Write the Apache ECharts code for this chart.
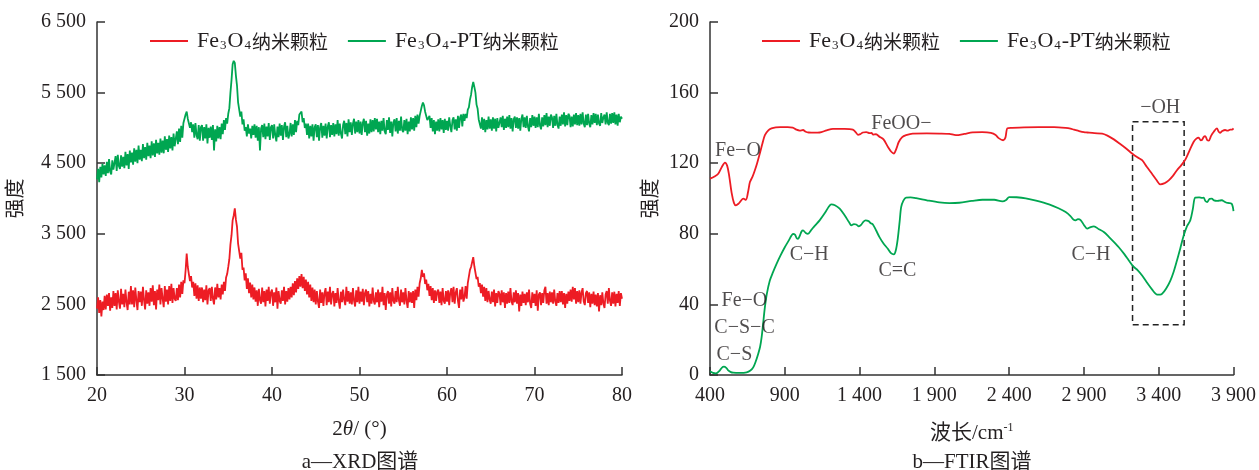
<!DOCTYPE html>
<html><head><meta charset="utf-8">
<script src="https://cdn.jsdelivr.net/npm/echarts@6/dist/echarts.min.js"></script>
<style>html,body{margin:0;padding:0;background:#fff}#c{width:1259px;height:470px}</style>
</head><body><div id="c"></div>
<script>
const seriesNames = ['Fe3O4纳米颗粒', 'Fe3O4-PT纳米颗粒'];
const xrdStart = 20, xrdStep = 0.125;
const xrdRed = [
2440,2600,2380,2560,2330,2540,2420,2620, 2430,2640,2480,2660,2410,2600,2450,2690,
2480,2660,2430,2700,2540,2440,2720,2500, 2650,2460,2710,2530,2420,2680,2500,2760,
2500,2700,2460,2740,2560,2420,2690,2530, 2680,2480,2750,2560,2430,2700,2510,2670,
2480,2730,2540,2770,2490,2690,2430,2710, 2560,2780,2500,2730,2580,2460,2760,2540,
2710,2500,2760,2550,2790,2520,2730,2580, 2550,2730,2560,2780,2600,2820,2650,2840,
2800,2980,3220,3030,2930,2830,2900,2740, 2820,2620,2800,2580,2770,2550,2740,2580,
2740,2530,2710,2560,2770,2500,2700,2730, 2550,2750,2580,2500,2740,2570,2790,2600,
2730,2570,2780,2640,2820,2690,2880,2930, 3030,3140,3350,3480,3690,3760,3860,3700,
3600,3360,3360,3150,3230,2990,3020,2840, 2940,2720,2870,2660,2810,2600,2780,2570,
2740,2540,2700,2480,2720,2560,2510,2740, 2530,2690,2470,2710,2550,2750,2510,2670,
2710,2480,2670,2530,2740,2440,2690,2550, 2510,2700,2550,2750,2500,2690,2540,2730,
2570,2750,2600,2800,2630,2830,2670,2870, 2720,2900,2750,2930,2730,2890,2690,2850,
2640,2820,2600,2780,2550,2740,2530,2710, 2500,2690,2540,2450,2710,2520,2670,2480,
2660,2730,2490,2680,2530,2750,2500,2650, 2690,2470,2660,2520,2730,2550,2440,2680,
2530,2710,2560,2490,2750,2540,2690,2510, 2670,2500,2730,2550,2470,2700,2530,2750,
2510,2680,2540,2720,2490,2660,2710,2530, 2690,2470,2650,2510,2740,2550,2500,2670,
2530,2710,2460,2670,2540,2750,2490,2660, 2420,2640,2690,2510,2670,2470,2730,2550,
2510,2690,2530,2750,2560,2480,2710,2530, 2670,2500,2730,2550,2450,2690,2530,2670,
2520,2690,2450,2710,2560,2750,2610,2800, 2870,2990,2890,2940,2790,2850,2700,2790,
2620,2760,2560,2730,2520,2700,2550,2680, 2710,2520,2680,2490,2730,2550,2510,2690,
2540,2700,2490,2670,2730,2530,2750,2510, 2670,2730,2550,2450,2710,2570,2750,2540,
2600,2760,2580,2800,2790,2990,3030,3020, 3170,3040,3020,2860,2890,2750,2800,2660,
2780,2610,2750,2550,2730,2530,2690,2570, 2510,2680,2530,2710,2470,2660,2520,2690,
2650,2490,2700,2530,2670,2450,2660,2510, 2680,2520,2730,2540,2490,2670,2530,2700,
2510,2660,2400,2640,2480,2680,2520,2650, 2490,2670,2530,2710,2510,2450,2670,2520,
2650,2480,2700,2410,2640,2670,2490,2660, 2520,2700,2750,2510,2660,2490,2680,2530,
2670,2510,2710,2540,2480,2660,2520,2690, 2530,2690,2500,2660,2450,2650,2510,2680,
2550,2710,2540,2750,2570,2730,2510,2690, 2530,2700,2510,2670,2730,2540,2490,2660,
2690,2520,2670,2460,2650,2510,2680,2490, 2640,2470,2660,2400,2630,2490,2670,2510,
2450,2640,2690,2510,2730,2550,2480,2670, 2510,2680,2470,2650,2520,2690,2480,2660,
2580];
const xrdGreen = [
4270,4420,4230,4450,4300,4490,4340,4470, 4320,4520,4360,4560,4380,4340,4540,4410,
4420,4600,4390,4620,4460,4420,4610,4450, 4590,4430,4660,4470,4630,4420,4680,4510,
4650,4480,4710,4520,4690,4500,4750,4550, 4690,4530,4770,4570,4730,4550,4790,4600,
4750,4570,4810,4610,4780,4590,4830,4640, 4790,4620,4850,4650,4820,4640,4880,4690,
4840,4660,4890,4710,4870,4680,4920,4740, 4750,4950,4770,4990,4800,5030,4860,5070,
5060,5190,5230,5130,5120,5000,5080,4940, 5050,4860,5070,4900,4840,5040,4820,5010,
5040,4820,5010,4850,5050,4780,5000,4860, 5020,4830,5040,4680,4980,4810,5030,4850,
5010,4840,5060,4910,5110,4970,5140,5060, 5200,5280,5500,5680,5900,5950,5920,5740,
5600,5360,5360,5160,5230,5050,5120,4960, 5010,4880,5050,4920,4990,4850,5030,4900,
5050,4860,5030,4820,5010,4680,4990,5040, 4870,5060,4840,5020,4880,5070,4830,5010,
5040,4850,5050,4890,4810,5020,4870,5060, 4890,5040,4830,5020,5080,4870,5030,4850,
4910,5070,4880,5050,4900,5110,4940,5100, 5040,5190,5170,5230,5080,5140,5000,5060,
4900,5060,4850,5030,4880,5050,4820,5010, 5050,4870,5040,4820,5010,5070,4860,5030,
4890,5060,4850,5020,5080,4870,5040,4900, 5070,4880,5050,4910,5110,4890,5060,4920,
4850,5040,5100,4910,5070,4880,5120,4940, 5080,4900,5060,5130,4920,5090,4940,5110,
4920,5090,4900,5070,5130,4940,5100,4890, 5060,4920,5120,4940,5110,4950,5140,4980,
5130,4940,5090,4910,5100,4960,5140,4950, 4910,5110,4970,5150,4930,5090,4880,5080,
5120,4950,5140,4920,5100,4960,5160,4970, 4940,5110,4960,5130,4910,5090,4950,5150,
4980,5140,4960,5170,5010,5190,5060,5170, 5180,5310,5360,5320,5230,5240,5110,5130,
5170,5000,5140,4950,5110,4910,5090,4960, 5120,4950,5140,4980,5110,4930,5130,4970,
5100,4960,5150,5030,4940,5110,5150,4980, 5120,4960,5170,5000,5150,5190,5020,5200,
5100,5200,5140,5260,5290,5400,5470,5580, 5650,5580,5500,5330,5270,5120,5130,4990,
5150,4970,5130,4940,5110,4980,5160,4990, 5120,4960,5150,4990,5130,4950,5140,5000,
4980,5150,5010,5170,4970,5130,5000,5160, 5010,5180,4990,5140,4950,5120,5160,5000,
5150,4990,5140,4960,5130,5190,5010,5150, 5000,5170,5020,4950,5140,5010,5180,5030,
5160,5000,5150,5010,5200,5030,4980,5150, 5020,5180,5040,5210,5010,5160,5030,5190,
5150,5000,5170,5030,5200,5040,4990,5160, 5030,5190,5050,5220,5020,5180,5040,5200,
5170,5010,5160,5020,5190,5050,5210,5040, 5180,5030,5200,5050,5220,5060,5010,5190,
5040,5200,5060,5010,5180,5050,5210,5070, 5200,5040,5190,5060,5030,5210,5070,5150,
5190,5050,5220,5070,5040,5200,5060,5210, 5070,5220,5050,5190,5030,5200,5080,5160,
5130];
const xrdTicksX = [20, 30, 40, 50, 60, 70, 80];
const xrdTicksY = [1500, 2500, 3500, 4500, 5500, 6500];
const ftirTicksX = [400, 900, 1400, 1900, 2400, 2900, 3400, 3900];
const ftirTicksY = [0, 40, 80, 120, 160, 200];
const ftirRed = [
[400,111.3],[430,112.5],[455,114],[480,118],[500,120.3],[515,118.5],[528,113],[545,103],[560,97.5],[573,96.1],
[590,97],[605,98.5],[622,99.9],[640,99.3],[655,104],[667,109.3],[685,112.5],[700,116],[715,120],[733,125.5],
[750,131],[767,135.9],[790,138.6],[811,139.7],[840,140.3],[870,140.4],[920,140.4],[953,140.2],[978,139],[1000,138.5],
[1022,138.8],[1040,137.8],[1060,137.4],[1100,137.3],[1133,137.4],[1180,138.6],[1222,139.4],[1300,139.4],[1355,139],[1375,137.5],
[1389,136.1],[1405,136.5],[1422,137.4],[1445,137.6],[1467,137],[1480,137.2],[1489,136.2],[1510,136.4],[1533,135],[1560,133.5],
[1590,129.2],[1612,126.5],[1629,125.5],[1645,128],[1662,132],[1685,134.8],[1711,135.9],[1755,136.8],[1850,136.9],[1933,136.8],
[2000,136.6],[2044,135.9],[2100,136.6],[2155,137.5],[2220,137.6],[2278,137.2],[2310,136],[2330,134.2],[2360,133],[2375,134.5],
[2389,139.8],[2420,140],[2500,140.3],[2600,140.4],[2700,140.4],[2778,140],[2810,139.6],[2833,139],[2860,138.4],[2900,137.6],
[2922,137.4],[2970,137],[3022,136.8],[3060,135.5],[3100,133.5],[3133,131.5],[3180,128.5],[3222,125.5],[3260,123.2],[3289,121.7],
[3320,118],[3355,114],[3385,110.5],[3411,108],[3440,108.7],[3467,110.3],[3495,112.8],[3522,116],[3550,118.8],[3578,122],
[3605,127],[3633,132],[3650,133.8],[3667,134.5],[3680,133],[3690,133.2],[3700,134.8],[3711,135.3],[3725,133],[3735,132.8],
[3750,135.5],[3767,137.7],[3789,139.7],[3800,138],[3810,137.2],[3825,138.2],[3844,138.8],[3860,138.4],[3878,139],[3890,139],
[3900,139.7]];
const ftirGreen = [
[400,2.1],[420,1.2],[440,0.9],[465,2.5],[480,4.2],[493,4.7],[507,4.2],[520,2.8],[540,1.6],[555,1.3],
[600,1.2],[645,1.5],[670,2.5],[689,4.3],[705,7.5],[722,11.9],[735,16],[745,21.3],[755,29],[767,38.4],
[780,46],[800,53.5],[820,58],[845,63],[870,67.5],[900,72.4],[925,76],[945,79],[955,80],[968,79.5],
[980,77.5],[989,77.2],[1000,78.8],[1012,81.3],[1022,81.9],[1040,80.5],[1055,80],[1080,82.5],[1100,84.5],[1133,87.6],
[1170,92],[1195,95.5],[1211,96.7],[1235,96.2],[1267,94.2],[1300,90.5],[1330,86.5],[1345,84.8],[1362,85.5],[1378,85.3],
[1395,84.2],[1410,85],[1425,86.8],[1440,87.6],[1460,87.2],[1475,86],[1489,85.3],[1510,82],[1533,78.1],[1560,74.5],
[1589,71.5],[1610,69],[1629,68.3],[1642,70.5],[1655,77],[1668,87],[1678,95.1],[1693,98.8],[1711,100.5],[1740,100.6],
[1778,100.2],[1850,99],[1933,97.8],[2000,97.4],[2067,97.6],[2150,98.6],[2222,99.3],[2300,99.3],[2355,98.4],[2380,99.2],
[2400,100.8],[2450,100.7],[2511,100.1],[2580,98.8],[2667,96.7],[2730,94.5],[2778,92.3],[2810,90],[2830,88],[2844,87.6],
[2860,88.3],[2878,87.8],[2900,85],[2922,82.9],[2945,83.8],[2967,84.2],[3000,82.6],[3033,81],[3070,78],[3111,74.4],
[3133,72.4],[3170,68.5],[3200,64.9],[3230,61.5],[3260,59.3],[3289,56.4],[3320,52.5],[3355,48.5],[3389,45.6],[3410,45.5],
[3422,45.9],[3450,49],[3478,53.5],[3500,58.5],[3522,64.9],[3545,72],[3567,79],[3590,84.5],[3611,87.6],[3628,94],
[3644,100.5],[3670,100.6],[3690,100.3],[3700,100.5],[3712,98.6],[3725,98],[3740,99.8],[3755,99.9],[3770,98.9],[3789,98.6],
[3805,98.8],[3822,99],[3840,98.2],[3855,97.6],[3870,97.4],[3889,96.9],[3900,92.9]];
const ftirLabels = [
[587,127.3,'Fe−O'],[1680,142.1,'FeOO−'],[3410,151.2,'−OH'],[1063,68.3,'C−H'],[1653,59.3,'C=C'],
[2947,68.3,'C−H'],[630,42.2,'Fe−O'],[631,26.7,'C−S−C'],[563,11.5,'C−S']];
const ohBox = [3225, 3570, 28.5, 143.5];

const FONT = "'Liberation Serif','Noto Sans CJK SC',serif";
const CJK = "'Noto Sans CJK SC','Liberation Serif',serif";
const TXT = '#231f20';
const RED = '#ed1c24', GREEN = '#00a651';
const fmtNum = v => v >= 1000 ? Math.floor(v / 1000) + ' ' + String(v % 1000).padStart(3, '0') : String(v);

function valAxis(gridIndex, min, max, ticks, extra) {
  return Object.assign({
    type: 'value', gridIndex, min, max,
    axisLine: { show: true, lineStyle: { color: '#333', width: 1.5 } },
    axisTick: { show: true, inside: true, length: 8, customValues: ticks, lineStyle: { color: '#333', width: 1.5 } },
    axisLabel: { customValues: ticks, formatter: fmtNum, color: TXT, fontFamily: FONT, fontSize: 20, margin: 11 },
    splitLine: { show: false },
    nameTextStyle: { color: TXT, fontFamily: FONT, fontSize: 20 }
  }, extra);
}

const legendBase = {
  icon: 'rect', itemWidth: 38, itemHeight: 2, itemGap: 20, top: 25, selectedMode: false,
  data: seriesNames,
  formatter: n => n.replace('Fe3O4', 'Fe{s|3}O{s|4}').replace('纳米颗粒', '{c|纳米颗粒}'),
  textStyle: { color: TXT, fontFamily: FONT, fontSize: 22, padding: [0, 0, 0, 4],
    rich: {
      s: { fontSize: 13, fontFamily: FONT, color: TXT, padding: [10, 1, 0, 1] },
      c: { fontSize: 19, fontFamily: CJK, color: TXT, padding: [2, 0, 0, 0] }
    } }
};

const chart = echarts.init(document.getElementById('c'), null, { renderer: 'canvas' });
chart.setOption({
  animation: false,
  grid: [
    { left: 97, top: 22, width: 525, height: 353 },
    { left: 710, top: 22, width: 525, height: 353 }
  ],
  legend: [
    Object.assign({}, legendBase, { left: 145 }),
    Object.assign({}, legendBase, { left: 757 })
  ],
  xAxis: [
    valAxis(0, 20, 80, xrdTicksX, { name: '2{i|θ}/ (°)', nameLocation: 'middle', nameGap: 44,
      nameTextStyle: { color: TXT, fontFamily: FONT, fontSize: 21, rich: { i: { fontStyle: 'italic', fontFamily: FONT, fontSize: 21, color: TXT } } } }),
    valAxis(1, 400, 3900, ftirTicksX, { name: '波长/cm{p|-1}', nameLocation: 'middle', nameGap: 47,
      nameTextStyle: { color: TXT, fontFamily: FONT, fontSize: 21, rich: { p: { fontSize: 12, fontFamily: FONT, color: TXT, padding: [0, 0, 11, 0] } } } })
  ],
  yAxis: [
    valAxis(0, 1500, 6500, xrdTicksY, { name: '强度', nameLocation: 'middle', nameRotate: 90, nameGap: 70 }),
    valAxis(1, 0, 200, ftirTicksY, { name: '强度', nameLocation: 'middle', nameRotate: 90, nameGap: 48 })
  ],
  graphic: [
    { type: 'text', x: 360, y: 462, style: { text: 'a—XRD图谱', align: 'center', verticalAlign: 'middle', fontSize: 21, fontFamily: FONT, fill: TXT } },
    { type: 'text', x: 972, y: 462, style: { text: 'b—FTIR图谱', align: 'center', verticalAlign: 'middle', fontSize: 21, fontFamily: FONT, fill: TXT } }
  ],
  series: [
    { name: seriesNames[0], type: 'line', xAxisIndex: 0, yAxisIndex: 0, symbol: 'none', silent: true,
      lineStyle: { color: RED, width: 1.8 }, itemStyle: { color: RED },
      data: xrdRed.map((v, i) => [xrdStart + i * xrdStep, v]) },
    { name: seriesNames[1], type: 'line', xAxisIndex: 0, yAxisIndex: 0, symbol: 'none', silent: true,
      lineStyle: { color: GREEN, width: 1.8 }, itemStyle: { color: GREEN },
      data: xrdGreen.map((v, i) => [xrdStart + i * xrdStep, v]) },
    { name: seriesNames[0], type: 'line', xAxisIndex: 1, yAxisIndex: 1, symbol: 'none', silent: true, smooth: 0.3,
      lineStyle: { color: RED, width: 1.8 }, itemStyle: { color: RED }, data: ftirRed,
      markArea: { silent: true, itemStyle: { color: 'rgba(0,0,0,0)', borderColor: '#222', borderWidth: 1.5, borderType: [6, 4] },
        data: [[{ coord: [ohBox[0], ohBox[3]] }, { coord: [ohBox[1], ohBox[2]] }]] } },
    { name: seriesNames[1], type: 'line', xAxisIndex: 1, yAxisIndex: 1, symbol: 'none', silent: true, smooth: 0.3,
      lineStyle: { color: GREEN, width: 1.8 }, itemStyle: { color: GREEN }, data: ftirGreen },
    { name: 'labels', type: 'scatter', xAxisIndex: 1, yAxisIndex: 1, symbolSize: 1, silent: true, z: 5,
      itemStyle: { color: 'rgba(0,0,0,0)' },
      label: { show: true, position: 'inside', formatter: p => p.data[2], color: TXT, fontFamily: FONT, fontSize: 20 },
      data: ftirLabels }
  ]
});
</script>
</body></html>
